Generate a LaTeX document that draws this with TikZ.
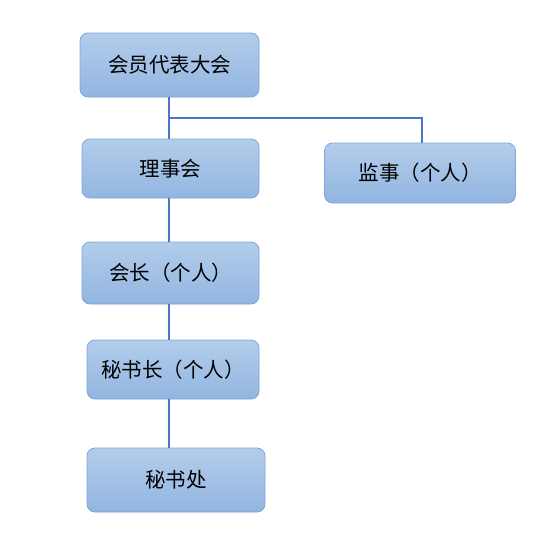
\documentclass[tikz,border=0pt]{standalone}
\usepackage{fontspec}
\setmainfont{Noto Sans CJK SC}
\definecolor{boxtop}{HTML}{B3CDEB}
\definecolor{boxbot}{HTML}{92B5E0}
\definecolor{boxline}{HTML}{7EA6D9}
\definecolor{linkblue}{HTML}{4A78C6}
\begin{document}
\begin{tikzpicture}[x=1pt, y=-1pt,
    orgbox/.style={draw=boxline, top color=boxtop, bottom color=boxbot,
      rounded corners=8pt, line width=0.8pt, inner sep=0pt,
      font=\fontsize{20.5}{24}\selectfont},
    link/.style={draw=linkblue, line width=1.6pt}]
    % 画布
    \useasboundingbox (0,0) rectangle (537,544);

    % 各机构
    \node[orgbox, minimum width=179pt, minimum height=64pt] (dahui) at (169.5,65) {会员代表大会};
    \node[orgbox, minimum width=177pt, minimum height=59pt] (lishi) at (170.5,168.5) {理事会};
    \node[orgbox, minimum width=191pt, minimum height=60pt] (jianshi) at (420,173) {监事（个人）};
    \node[orgbox, minimum width=177pt, minimum height=62pt] (huizhang) at (170.5,273) {会长（个人）};
    \node[orgbox, minimum width=172pt, minimum height=59pt] (mishuzhang) at (173,369.5) {秘书长（个人）};
    \node[orgbox, minimum width=178pt, minimum height=64pt] (mishuchu) at (176,480) {秘书处};

    % 连线
    \coordinate (fork) at (169,118);
    \draw[link] (dahui.south -| fork) -- (lishi.north -| fork);
    \draw[link] (fork) -| ([xshift=2pt]jianshi.north);
    \draw[link] (lishi.south -| fork) -- (huizhang.north -| fork);
    \draw[link] (huizhang.south -| fork) -- (mishuzhang.north -| fork);
    \draw[link] (mishuzhang.south -| fork) -- (mishuchu.north -| fork);
  \end{tikzpicture}
\end{document}
